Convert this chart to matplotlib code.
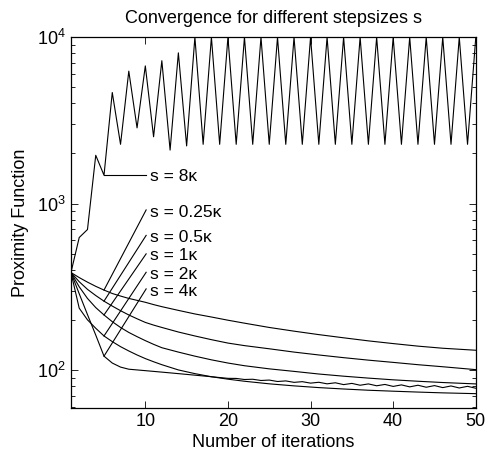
import numpy as np
import matplotlib
matplotlib.use('Agg')
import matplotlib.pyplot as plt
from matplotlib.ticker import FixedLocator, LogLocator, NullFormatter

plt.rcParams['font.family'] = ['Liberation Sans', 'DejaVu Sans']
plt.rcParams['mathtext.fontset'] = 'custom'
plt.rcParams['mathtext.rm'] = 'Liberation Sans'

# values (iterations 1..50)
iters = np.arange(1, 51)

s8 = [385, 625, 698, 1950, 1480, 4650, 2270, 6250, 2850, 6720,
      2520, 7220, 2096, 8050, 2220, 10000, 2270, 10000, 2270, 10000,
      2270, 10000, 2270, 10000, 2270, 10000, 2270, 10000, 2270, 10000,
      2270, 10000, 2270, 10000, 2270, 10000, 2270, 10000, 2270, 10000,
      2270, 10000, 2270, 10000, 2270, 10000, 2270, 10000, 2270, 10000]

s4 = [385, 287, 215, 162, 121, 110, 104, 101, 100, 99,
      98, 97, 96, 95, 94, 93, 92, 91, 90, 89,
      88.9, 87.6, 87.9, 86.4, 86.9, 85.2, 85.9, 84.2, 85.0, 83.3,
      84.3, 82.5, 83.7, 81.6, 83.0, 80.9, 82.4, 80.3, 81.8, 79.6,
      81.3, 79.1, 80.9, 78.7, 80.5, 78.3, 80.1, 77.9, 79.7, 77.6]

# smooth curves: read at a subset of iterations
k_read = [1, 2, 3, 4, 5, 6, 7, 8, 9, 10, 11, 12,
          14, 16, 18, 20, 22, 25, 28, 31, 34, 37, 40, 43, 46, 50]
s2 = [385, 235, 200, 178, 160, 148, 138, 130, 123, 117, 112, 107.5,
      100, 95, 91, 88, 85.5, 82.5, 80.2, 78.3, 76.8, 75.5, 74.5, 73.6, 72.8, 72]
s1 = [385, 316, 269, 237, 214, 195, 180, 168, 158.5, 150, 142.5, 136,
      128, 121, 115, 110, 106, 101.5, 98, 94.5, 91.7, 89.3, 87.2, 85.5, 84, 82.4]
s05 = [385, 339, 305, 280, 259, 242, 227, 214, 203, 193, 186, 180,
       169, 160, 152, 145, 140, 134, 128, 123, 118.5, 114.5, 111, 107.5, 104.5, 100.4]
s025 = [385, 359, 337, 318, 302, 288, 278, 269, 262, 255, 247, 240,
        228, 217, 208, 199, 191, 180, 171, 163, 156, 149.5, 144, 139, 135, 131.3]

labels = ['s = 0.25\u03ba', 's = 0.5\u03ba', 's = 1\u03ba', 's = 2\u03ba', 's = 4\u03ba']
label_y = [889, 625, 484, 375, 298]

fs = 13
fig = plt.figure(figsize=(4.86, 4.59), dpi=100)
ax = fig.add_axes([0.146, 0.111, 0.833, 0.808])

lw = 0.8
ax.plot(iters, s8, color='k', lw=lw)
ax.plot(iters, s4, color='k', lw=lw)
ax.plot(k_read, s2, color='k', lw=lw)
ax.plot(k_read, s1, color='k', lw=lw)
ax.plot(k_read, s05, color='k', lw=lw)
ax.plot(k_read, s025, color='k', lw=lw)

ax.set_yscale('log')
ax.set_xlim(1, 50)
ax.set_ylim(59, 10000)

# annotation leaders
xt = 10.1
ax.plot([5, xt], [s8[4], s8[4]], color='k', lw=lw)
ax.text(xt + 0.5, 1462, 's = 8\u03ba', ha='left', va='center', fontsize=12.5)
curves = [s025, s05, s1, s2, s4[:5]]
for c, lab, yv in zip(curves, labels, label_y):
    ax.plot([5, xt], [c[4], yv * 1.03], color='k', lw=lw)
    ax.text(xt + 0.5, yv, lab, ha='left', va='center', fontsize=12.5)

ax.xaxis.set_major_locator(FixedLocator([10, 20, 30, 40, 50]))
ax.yaxis.set_major_locator(LogLocator(base=10, numticks=10))
ax.yaxis.set_minor_locator(LogLocator(base=10, subs=np.arange(2, 10), numticks=20))
ax.yaxis.set_minor_formatter(NullFormatter())
ax.tick_params(which='both', direction='in', top=True, right=True, labelsize=fs)
ax.tick_params(which='major', length=5, width=0.6)
ax.tick_params(which='minor', length=3, width=0.6)
for sp in ax.spines.values():
    sp.set_linewidth(0.9)

ax.set_title('Convergence for different stepsizes s', fontsize=fs, pad=10)
ax.set_xlabel('Number of iterations', fontsize=fs, labelpad=3)
ax.set_ylabel('Proximity Function', fontsize=fs, labelpad=6)

fig.savefig('out.png', dpi=100)
